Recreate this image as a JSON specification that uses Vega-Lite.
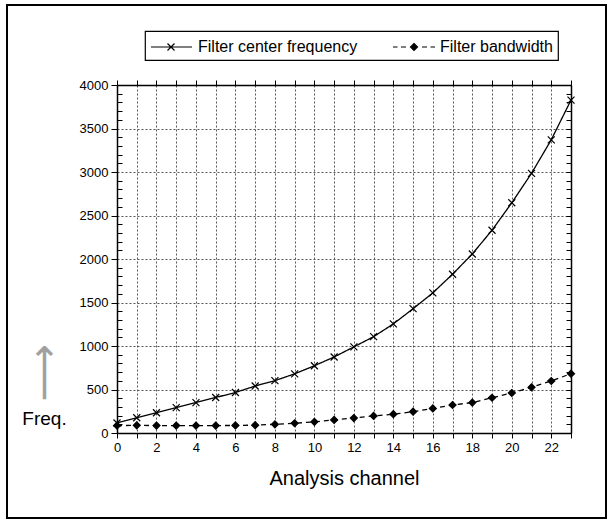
{
  "$schema": "https://vega.github.io/schema/vega-lite/v6.json",
  "width": 454,
  "height": 348,
  "autosize": {"type": "none"},
  "padding": {"left": 117, "top": 85, "right": 37, "bottom": 89},
  "background": "white",
  "config": {
    "font": "Liberation Sans",
    "view": {"stroke": null},
    "axis": {"domainColor": "black", "tickColor": "black", "labelColor": "black", "titleColor": "black", "titleFontWeight": "normal", "domainWidth": 1.5, "tickWidth": 1}
  },
  "data": {"values": [
    {"ch": 0, "series": "Filter center frequency", "value": 115},
    {"ch": 1, "series": "Filter center frequency", "value": 175},
    {"ch": 2, "series": "Filter center frequency", "value": 233},
    {"ch": 3, "series": "Filter center frequency", "value": 291},
    {"ch": 4, "series": "Filter center frequency", "value": 350},
    {"ch": 5, "series": "Filter center frequency", "value": 408},
    {"ch": 6, "series": "Filter center frequency", "value": 466},
    {"ch": 7, "series": "Filter center frequency", "value": 540},
    {"ch": 8, "series": "Filter center frequency", "value": 602},
    {"ch": 9, "series": "Filter center frequency", "value": 680},
    {"ch": 10, "series": "Filter center frequency", "value": 773},
    {"ch": 11, "series": "Filter center frequency", "value": 874},
    {"ch": 12, "series": "Filter center frequency", "value": 990},
    {"ch": 13, "series": "Filter center frequency", "value": 1107},
    {"ch": 14, "series": "Filter center frequency", "value": 1254},
    {"ch": 15, "series": "Filter center frequency", "value": 1429},
    {"ch": 16, "series": "Filter center frequency", "value": 1611},
    {"ch": 17, "series": "Filter center frequency", "value": 1825},
    {"ch": 18, "series": "Filter center frequency", "value": 2058},
    {"ch": 19, "series": "Filter center frequency", "value": 2331},
    {"ch": 20, "series": "Filter center frequency", "value": 2646},
    {"ch": 21, "series": "Filter center frequency", "value": 2985},
    {"ch": 22, "series": "Filter center frequency", "value": 3370},
    {"ch": 23, "series": "Filter center frequency", "value": 3827},
    {"ch": 0, "series": "Filter bandwidth", "value": 85},
    {"ch": 1, "series": "Filter bandwidth", "value": 88},
    {"ch": 2, "series": "Filter bandwidth", "value": 85},
    {"ch": 3, "series": "Filter bandwidth", "value": 85},
    {"ch": 4, "series": "Filter bandwidth", "value": 85},
    {"ch": 5, "series": "Filter bandwidth", "value": 85},
    {"ch": 6, "series": "Filter bandwidth", "value": 87},
    {"ch": 7, "series": "Filter bandwidth", "value": 90},
    {"ch": 8, "series": "Filter bandwidth", "value": 100},
    {"ch": 9, "series": "Filter bandwidth", "value": 112},
    {"ch": 10, "series": "Filter bandwidth", "value": 128},
    {"ch": 11, "series": "Filter bandwidth", "value": 150},
    {"ch": 12, "series": "Filter bandwidth", "value": 172},
    {"ch": 13, "series": "Filter bandwidth", "value": 196},
    {"ch": 14, "series": "Filter bandwidth", "value": 216},
    {"ch": 15, "series": "Filter bandwidth", "value": 245},
    {"ch": 16, "series": "Filter bandwidth", "value": 283},
    {"ch": 17, "series": "Filter bandwidth", "value": 322},
    {"ch": 18, "series": "Filter bandwidth", "value": 350},
    {"ch": 19, "series": "Filter bandwidth", "value": 405},
    {"ch": 20, "series": "Filter bandwidth", "value": 460},
    {"ch": 21, "series": "Filter bandwidth", "value": 525},
    {"ch": 22, "series": "Filter bandwidth", "value": 598},
    {"ch": 23, "series": "Filter bandwidth", "value": 682}
  ]},
  "layer": [
    {
      "mark": {"type": "line", "color": "black", "strokeWidth": 1.3},
      "encoding": {
        "x": {"field": "ch", "type": "quantitative", "scale": {"domain": [0, 23], "nice": false, "zero": false},
          "axis": {"orient": "bottom", "values": [0,1,2,3,4,5,6,7,8,9,10,11,12,13,14,15,16,17,18,19,20,21,22,23],
            "tickSize": 5, "labelExpr": "datum.value % 2 === 0 ? datum.label : ''", "labelFontSize": 13, "labelPadding": 3,
            "labelOverlap": false, "labelFlush": false, "grid": true, "gridColor": "#555", "gridWidth": 1, "gridDash": [2, 2],
            "title": "Analysis channel", "titleFontSize": 20, "titlePadding": 14}},
        "y": {"field": "value", "type": "quantitative", "scale": {"domain": [0, 4000], "nice": false},
          "axis": {"orient": "left", "values": [0,100,200,300,400,500,600,700,800,900,1000,1100,1200,1300,1400,1500,1600,1700,1800,1900,2000,2100,2200,2300,2400,2500,2600,2700,2800,2900,3000,3100,3200,3300,3400,3500,3600,3700,3800,3900,4000],
            "tickSize": {"condition": {"test": "datum.value % 500 === 0", "value": 6}, "value": -5},
            "labelExpr": "datum.value % 500 === 0 ? datum.label : ''", "format": "d", "labelFontSize": 13, "labelPadding": 3,
            "labelOverlap": false, "labelFlush": false, "grid": true, "gridColor": "#555", "gridWidth": 1,
            "gridDash": {"condition": {"test": "datum.value % 500 === 0", "value": [2, 2]}, "value": [2, 2]},
            "gridOpacity": {"condition": {"test": "datum.value % 500 === 0", "value": 1}, "value": 0},
            "title": "Freq.", "titleAngle": 0, "titleX": -73, "titleY": 333, "titleAlign": "center", "titleBaseline": "middle", "titleFontSize": 19}},
        "strokeDash": {"field": "series", "type": "nominal",
          "scale": {"domain": ["Filter center frequency", "Filter bandwidth"], "range": [[1, 0], [5, 4]]}, "legend": null}
      }
    },
    {
      "mark": {"type": "point", "filled": true, "color": "black", "stroke": "black", "strokeWidth": 1.2, "size": 49, "opacity": 1},
      "encoding": {
        "x": {"field": "ch", "type": "quantitative", "scale": {"domain": [0, 23], "nice": false, "zero": false},
          "axis": {"orient": "top", "values": [0,1,2,3,4,5,6,7,8,9,10,11,12,13,14,15,16,17,18,19,20,21,22,23],
            "tickSize": 5, "labels": false, "grid": false, "title": null}},
        "y": {"field": "value", "type": "quantitative", "scale": {"domain": [0, 4000], "nice": false},
          "axis": {"orient": "right", "values": [0,100,200,300,400,500,600,700,800,900,1000,1100,1200,1300,1400,1500,1600,1700,1800,1900,2000,2100,2200,2300,2400,2500,2600,2700,2800,2900,3000,3100,3200,3300,3400,3500,3600,3700,3800,3900,4000],
            "tickSize": -5, "labels": false, "grid": false,
            "title": "⟶", "titleAngle": 270, "titleX": -527, "titleY": 287, "titleAlign": "center", "titleBaseline": "middle",
            "titleColor": "#a0a0a0", "titleFontSize": 40, "titleFont": "DejaVu Sans"}},
        "shape": {"field": "series", "type": "nominal",
          "scale": {"domain": ["Filter center frequency", "Filter bandwidth"], "range": ["M-1,-1L1,1M-1,1L1,-1", "diamond"]}, "legend": null}
      }
    },
    {
      "transform": [{"filter": "false"}],
      "mark": {"type": "point", "filled": true, "color": "black"},
      "encoding": {
        "x": {"field": "ch", "type": "quantitative", "axis": null},
        "y": {"field": "value", "type": "quantitative", "axis": null},
        "shape": {"field": "series", "type": "nominal",
          "scale": {"domain": ["Filter center frequency", "Filter bandwidth"],
            "range": ["M-1,0L3.1,0M0.65,-0.35L1.35,0.35M0.65,0.35L1.35,-0.35",
                      "M-1,0L-0.55,0M-0.2,0L0.3,0M1.9,0L2.4,0M2.75,0L3.2,0M1.1,-0.35L1.45,0L1.1,0.35L0.75,0Z"]},
          "legend": {"orient": "none", "legendX": 28, "legendY": -54, "direction": "horizontal", "title": null,
            "symbolSize": 400, "symbolFillColor": "black", "symbolStrokeColor": "black", "symbolStrokeWidth": 1.2, "symbolOpacity": 1,
            "labelFontSize": 16, "labelFont": "Liberation Sans", "labelColor": "black", "labelOffset": 26, "labelLimit": 400,
            "columnPadding": 32, "padding": 5, "strokeColor": "black",
            "encode": {"legend": {"update": {"strokeWidth": {"value": 1.2}}}}}},
        "color": {"field": "value", "type": "quantitative", "scale": {"domain": [0, 4000], "range": ["white", "white"]},
          "legend": {"orient": "none", "legendX": -110, "legendY": -80, "direction": "vertical", "title": null,
            "labelExpr": "''", "labelOpacity": 0, "labelFontSize": 1, "tickCount": 2,
            "gradientLength": 513, "gradientThickness": 597, "gradientOpacity": 0,
            "padding": 0, "strokeColor": "black",
            "encode": {"legend": {"update": {"strokeWidth": {"value": 2}}}}}}
      }
    }
  ],
  "resolve": {"scale": {"shape": "independent"}, "axis": {"x": "independent", "y": "independent"}}
}
